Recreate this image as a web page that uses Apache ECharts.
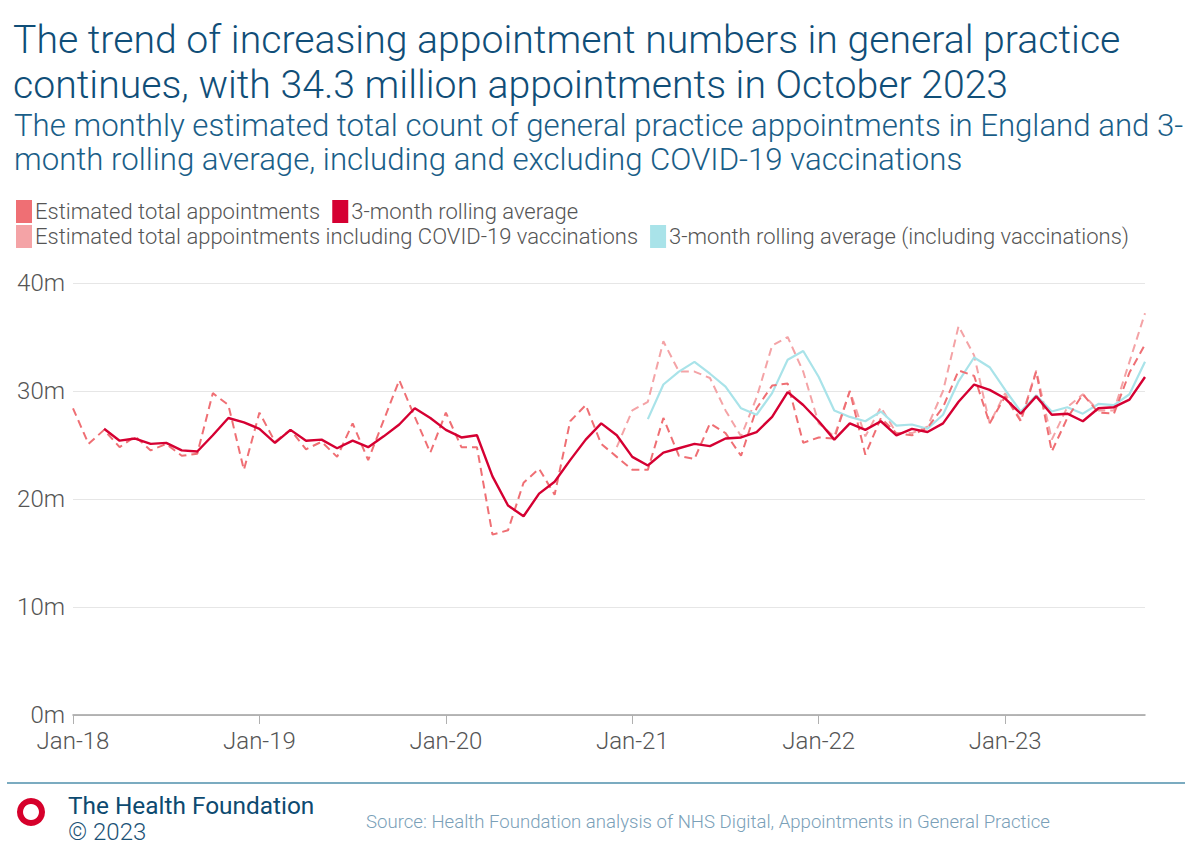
<!DOCTYPE html>
<html>
<head>
<meta charset="utf-8">
<script src="https://cdn.jsdelivr.net/npm/echarts@6/dist/echarts.min.js"></script>
<style>
html,body{margin:0;padding:0;background:#fff;}
#chart{width:1200px;height:867px;}
</style>
</head>
<body>
<div id="chart"></div>
<script>
// ---- data ----
var years = ['18','19','20','21','22','23'];
var monthNames = ['Jan','Feb','Mar','Apr','May','Jun','Jul','Aug','Sep','Oct','Nov','Dec'];
var categories = [];
years.forEach(function(y, yi){
  monthNames.forEach(function(m, mi){
    if (yi === 5 && mi > 9) return;
    categories.push(m + '-' + y);
  });
});

// Estimated total appointments (millions), Jan-18 .. Oct-23
var totalAppointments = [
  28.4,25.1,26.4,24.8,25.8,24.5,25.1,24.0,24.2,29.8,28.7,22.7,
  28.0,25.3,26.4,24.6,25.3,23.9,27.0,23.6,27.3,31.0,27.6,24.3,
  28.0,24.8,24.8,16.7,17.1,21.5,22.8,20.4,27.2,28.7,25.1,23.9,
  22.7,22.7,27.5,24.0,23.7,27.0,26.1,24.0,28.4,30.5,30.7,25.2,
  25.7,25.6,30.0,24.1,27.5,26.1,25.9,26.6,28.5,31.9,31.4,27.0,
  29.5,27.2,31.8,24.4,27.5,29.7,28.0,27.9,31.7,34.3
];
// 3-month rolling average (starts Mar-18)
var rollingAverage = [
  null,null,26.5,25.4,25.6,25.1,25.2,24.5,24.4,25.9,27.5,27.1,
  26.5,25.2,26.4,25.4,25.5,24.7,25.4,24.8,25.8,26.9,28.4,27.5,
  26.4,25.7,25.9,22.1,19.4,18.4,20.5,21.6,23.6,25.5,27.0,25.9,
  23.9,23.1,24.3,24.7,25.1,24.9,25.6,25.7,26.2,27.6,29.9,28.7,
  27.2,25.5,27.0,26.4,27.2,25.9,26.5,26.2,27.0,29.0,30.6,30.1,
  29.3,27.9,29.5,27.8,27.9,27.2,28.4,28.5,29.2,31.3
];
// Estimated total appointments including COVID-19 vaccinations (starts Dec-20)
var totalInclVacc = [
  null,null,null,null,null,null,null,null,null,null,null,null,
  null,null,null,null,null,null,null,null,null,null,null,null,
  null,null,null,null,null,null,null,null,null,null,null,24.8,
  28.2,29.0,34.6,31.8,31.8,31.2,28.2,25.8,29.4,34.2,35.0,31.8,
  27.0,25.8,30.0,25.8,28.5,26.1,26.1,26.7,30.0,36.0,33.3,27.0,
  29.8,27.3,31.9,25.5,28.5,29.7,28.2,28.2,32.7,37.2
];
// 3-month rolling average including vaccinations (starts Feb-21)
var rollingInclVacc = [
  null,null,null,null,null,null,null,null,null,null,null,null,
  null,null,null,null,null,null,null,null,null,null,null,null,
  null,null,null,null,null,null,null,null,null,null,null,null,
  null,27.4,30.6,31.8,32.7,31.6,30.4,28.4,27.8,29.8,32.9,33.7,
  31.3,28.2,27.6,27.2,28.1,26.8,26.9,26.5,27.8,30.9,33.1,32.2,
  30.1,28.1,29.6,28.1,28.5,27.9,28.8,28.7,29.7,32.7
];
var yTicks = [0, 10, 20, 30, 40];

var FONT = "Roboto, 'Liberation Sans', sans-serif";
var C_TOTAL = '#ef6f74';
var C_ROLL = '#d50032';
var C_INCL = '#f4a3a6';
var C_ROLLV = '#a9e3e9';

var chart = echarts.init(document.getElementById('chart'), null, {renderer: 'svg'});
var legendText = {fontFamily: FONT, fontWeight: 300, fontSize: 22, color: '#555', padding: [0, 0, 0, -2]};

chart.setOption({
  animation: false,
  backgroundColor: '#fff',
  grid: {left: 73, right: 55, top: 283, bottom: 152, containLabel: false},
  legend: [
    {left: 16, top: 200, icon: 'rect', itemWidth: 16, itemHeight: 23, itemGap: 12,
     textStyle: legendText, padding: 0,
     data: [
       {name: 'Estimated total appointments', itemStyle: {color: C_TOTAL}},
       {name: '3-month rolling average', itemStyle: {color: C_ROLL}}
     ]},
    {left: 16, top: 225, icon: 'rect', itemWidth: 16, itemHeight: 23, itemGap: 12,
     textStyle: legendText, padding: 0,
     data: [
       {name: 'Estimated total appointments including COVID-19 vaccinations', itemStyle: {color: C_INCL}},
       {name: '3-month rolling average (including vaccinations)', itemStyle: {color: C_ROLLV}}
     ]}
  ],
  xAxis: {
    type: 'category',
    data: categories,
    boundaryGap: false,
    axisLine: {lineStyle: {color: '#a0a0a0', width: 1.5}},
    axisTick: {show: true, interval: 11, length: 9, lineStyle: {color: '#b0b0b0'}},
    axisLabel: {interval: 11, fontFamily: FONT, fontWeight: 300, fontSize: 24, color: '#555', margin: 14},
    splitLine: {show: false}
  },
  yAxis: {
    type: 'value',
    min: yTicks[0], max: yTicks[yTicks.length - 1], interval: 10,
    axisLine: {show: false},
    axisTick: {show: false},
    axisLabel: {fontFamily: FONT, fontWeight: 300, fontSize: 24, color: '#555', margin: 8,
      formatter: function(v){ return v + 'm'; }},
    splitLine: {lineStyle: {color: '#e6e6e6', width: 1}}
  },
  series: [
    {name: 'Estimated total appointments including COVID-19 vaccinations', type: 'line', data: totalInclVacc,
     symbol: 'none', lineStyle: {color: C_INCL, width: 2, type: [8, 5]}, itemStyle: {color: C_INCL}, z: 2},
    {name: '3-month rolling average (including vaccinations)', type: 'line', data: rollingInclVacc,
     symbol: 'none', lineStyle: {color: C_ROLLV, width: 2.2}, itemStyle: {color: C_ROLLV}, z: 3},
    {name: 'Estimated total appointments', type: 'line', data: totalAppointments,
     symbol: 'none', lineStyle: {color: C_TOTAL, width: 2, type: [8, 5]}, itemStyle: {color: C_TOTAL}, z: 4},
    {name: '3-month rolling average', type: 'line', data: rollingAverage,
     symbol: 'none', lineStyle: {color: C_ROLL, width: 2.4}, itemStyle: {color: C_ROLL}, z: 5}
  ],
  graphic: [
    {type: 'text', left: 13, top: 20, style: {text: 'The trend of increasing appointment numbers in general practice',
      fontFamily: FONT, fontWeight: 300, fontSize: 39.2, fill: '#104e78'}},
    {type: 'text', left: 13, top: 65, style: {text: 'continues, with 34.3 million appointments in October 2023',
      fontFamily: FONT, fontWeight: 300, fontSize: 39.2, fill: '#104e78'}},
    {type: 'text', left: 14, top: 110, style: {text: 'The monthly estimated total count of general practice appointments in England and 3-',
      fontFamily: FONT, fontWeight: 300, fontSize: 31.2, fill: '#1a5e88'}},
    {type: 'text', left: 14, top: 144, style: {text: 'month rolling average, including and excluding COVID-19 vaccinations',
      fontFamily: FONT, fontWeight: 300, fontSize: 31.2, fill: '#1a5e88'}},
    {type: 'line', shape: {x1: 7, y1: 783, x2: 1185, y2: 783}, style: {stroke: '#4f8fab', lineWidth: 1.5}},
    {type: 'ring', shape: {cx: 31, cy: 812, r: 14, r0: 8}, style: {fill: '#d6002b'}},
    {type: 'text', left: 68, top: 793, style: {text: 'The Health Foundation',
      fontFamily: FONT, fontWeight: 400, fontSize: 24.4, fill: '#0d4a70'}},
    {type: 'text', left: 68, top: 820, style: {text: '\u00a9 2023',
      fontFamily: FONT, fontWeight: 300, fontSize: 24, fill: '#1b5276'}},
    {type: 'text', left: 366, top: 812, style: {text: 'Source: Health Foundation analysis of NHS Digital, Appointments in General Practice',
      fontFamily: FONT, fontWeight: 300, fontSize: 18.6, fill: '#7aa0b8'}}
  ]
});
</script>
</body>
</html>
